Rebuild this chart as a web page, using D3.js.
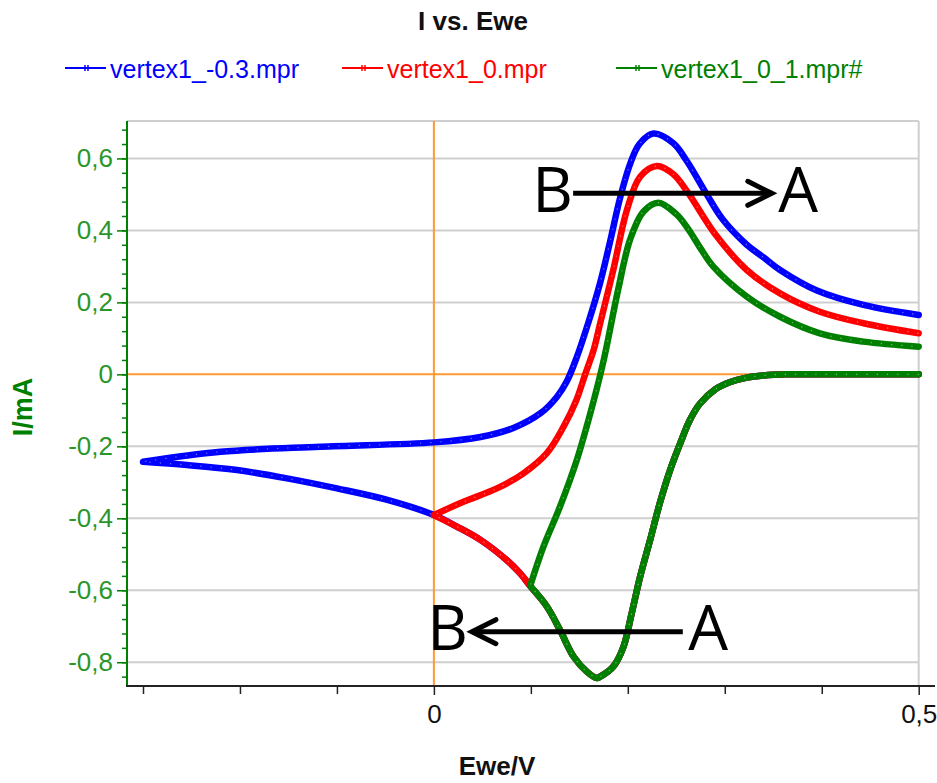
<!DOCTYPE html>
<html><head><meta charset="utf-8">
<script src="https://cdn.jsdelivr.net/npm/d3@7/dist/d3.min.js"></script>
<style>
html,body{margin:0;padding:0;background:#fff;}
svg{display:block;}
</style></head>
<body>
<svg id="chart" width="937" height="783"></svg>
<script>
// ---- data ----
// shared cathodic sweep (from 0.5 V toward negative vertex): potential (V), current (mA)
const cathodicE = [0.50, 0.42, 0.364, 0.34, 0.3227, 0.305, 0.29, 0.2745, 0.264, 0.254, 0.2436, 0.233, 0.223, 0.2127, 0.204, 0.1955, 0.185, 0.1715, 0.168, 0.1577, 0.144, 0.130, 0.1165, 0.0993, 0.089, 0.075, 0.048, 0.0237, 0.0, -0.048, -0.100, -0.1515, -0.203, -0.2546, -0.30];
const cathodicI = [0.0, 0.0, 0.0, -0.003, -0.009, -0.022, -0.042, -0.081, -0.127, -0.192, -0.266, -0.358, -0.460, -0.562, -0.664, -0.757, -0.812, -0.840, -0.844, -0.826, -0.784, -0.710, -0.645, -0.588, -0.553, -0.516, -0.460, -0.423, -0.391, -0.349, -0.317, -0.289, -0.266, -0.252, -0.243];

// anodic return sweeps
const blueE = [-0.30, -0.220, -0.117, 0.0, 0.048, 0.082, 0.110, 0.127, 0.137, 0.147, 0.16, 0.1715, 0.1818, 0.192, 0.2024, 0.212, 0.2264, 0.247, 0.261, 0.2814, 0.298, 0.3227, 0.34, 0.357, 0.395, 0.443, 0.50];
const blueI = [-0.243, -0.215, -0.201, -0.189, -0.174, -0.149, -0.108, -0.062, -0.020, 0.045, 0.150, 0.255, 0.370, 0.490, 0.585, 0.640, 0.669, 0.642, 0.592, 0.500, 0.430, 0.360, 0.325, 0.290, 0.233, 0.193, 0.165];

const redE = [0.0, 0.0305, 0.065, 0.0924, 0.1165, 0.1336, 0.147, 0.156, 0.165, 0.1715, 0.185, 0.199, 0.2127, 0.230, 0.247, 0.262, 0.29, 0.3227, 0.357, 0.398, 0.443, 0.50];
const redI = [-0.391, -0.354, -0.317, -0.275, -0.219, -0.146, -0.071, 0.0, 0.070, 0.142, 0.290, 0.456, 0.549, 0.579, 0.556, 0.505, 0.390, 0.290, 0.225, 0.174, 0.142, 0.114];

const greenE = [0.0993, 0.113, 0.130, 0.1474, 0.1594, 0.168, 0.176, 0.19, 0.2024, 0.216, 0.2316, 0.25, 0.262, 0.275, 0.288, 0.3227, 0.357, 0.398, 0.443, 0.50];
const greenI = [-0.588, -0.479, -0.368, -0.238, -0.127, -0.040, 0.050, 0.235, 0.375, 0.452, 0.477, 0.445, 0.405, 0.350, 0.300, 0.216, 0.160, 0.114, 0.091, 0.077];

const seriesNames = ["vertex1_-0.3.mpr", "vertex1_0.mpr", "vertex1_0_1.mpr#"];
const seriesColors = ["#0000ff", "#ff0000", "#008000"];
const seriesVertex = [-0.30, 0.0, 0.0993];

const yMajorTicks = [-0.8, -0.6, -0.4, -0.2, 0, 0.2, 0.4, 0.6];
const yTickLabels = ["-0,8", "-0,6", "-0,4", "-0,2", "0", "0,2", "0,4", "0,6"];
const xMajorTicks = [0, 0.5];
const xTickLabels = ["0", "0,5"];
const xMinorTicks = [-0.3, -0.2, -0.1, 0.1, 0.2, 0.3, 0.4];

// annotations (data units)
const annoTop = {from: [0.1436, 0.503], to: [0.3485, 0.503], textY: 0.452, bX: 0.1225, aX: 0.3756};
const annoBottom = {from: [0.2567, -0.715], to: [0.0392, -0.715], textY: -0.766, bX: 0.0142, aX: 0.2828};

// ---- build ----
(function draw() {
const svg = d3.select("#chart");
const x = d3.scaleLinear().domain([-0.3165, 0.5168]).range([127, 935]);
const y = d3.scaleLinear().domain([-0.866, 0.704]).range([686, 121]);
const pL = 127, pR = 935, pT = 121, pB = 686;

const anodic = [[blueE, blueI], [redE, redI], [greenE, greenI]];
const series = seriesNames.map((name, k) => {
  const pts = [];
  cathodicE.forEach((e, i) => { if (e >= seriesVertex[k] - 1e-9) pts.push([e, cathodicI[i]]); });
  anodic[k][0].forEach((e, i) => pts.push([e, anodic[k][1][i]]));
  return {name, color: seriesColors[k], pts};
});

const font = "'Liberation Sans', Arial, sans-serif";

// gridlines
const grid = svg.append("g");
yMajorTicks.filter(v => v !== 0).concat([0.704]).forEach(v => {
  grid.append("line").attr("x1", pL).attr("x2", x(0.5)).attr("y1", y(v)).attr("y2", y(v))
    .attr("stroke", "#cfcfcf").attr("stroke-width", 2);
});
grid.append("line").attr("x1", x(0.5)).attr("x2", x(0.5)).attr("y1", pT).attr("y2", pB)
  .attr("stroke", "#cfcfcf").attr("stroke-width", 2);
// zero lines
grid.append("line").attr("x1", pL).attr("x2", x(0.5)).attr("y1", y(0)).attr("y2", y(0))
  .attr("stroke", "#ff9933").attr("stroke-width", 2);
grid.append("line").attr("x1", x(0)).attr("x2", x(0)).attr("y1", pT).attr("y2", pB)
  .attr("stroke", "#ff9933").attr("stroke-width", 2);

// y axis (green)
const yMinor = d3.range(-0.84, 0.69, 0.04).map(v => +v.toFixed(2));
const yAx = svg.append("g").attr("transform", `translate(${pL},0)`);
yAx.call(d3.axisLeft(y).tickValues(yMinor).tickSize(5).tickFormat(""));
yAx.select(".domain").remove();
yAx.selectAll("line").attr("stroke", "#008000").attr("stroke-width", 1.5);
const yAxMaj = svg.append("g").attr("transform", `translate(${pL},0)`)
  .call(d3.axisLeft(y).tickValues(yMajorTicks).tickSize(10).tickPadding(4)
    .tickFormat((d, i) => yTickLabels[i]));
yAxMaj.select(".domain").remove();
yAxMaj.selectAll("line").attr("stroke", "#008000").attr("stroke-width", 1.5);
yAxMaj.selectAll("text").attr("fill", "#2a962a").style("font-family", font).style("font-size", "26px");
svg.append("line").attr("x1", pL).attr("x2", pL).attr("y1", pT).attr("y2", pB + 1)
  .attr("stroke", "#008000").attr("stroke-width", 2);

// x axis (black)
const xAx = svg.append("g").attr("transform", `translate(0,${pB})`)
  .call(d3.axisBottom(x).tickValues(xMinorTicks).tickSize(8).tickFormat(""));
xAx.select(".domain").remove();
xAx.selectAll("line").attr("stroke", "#222").attr("stroke-width", 1.5);
const xAxMaj = svg.append("g").attr("transform", `translate(0,${pB})`)
  .call(d3.axisBottom(x).tickValues(xMajorTicks).tickSize(9).tickPadding(10)
    .tickFormat((d, i) => xTickLabels[i]));
xAxMaj.select(".domain").remove();
xAxMaj.selectAll("line").attr("stroke", "#222").attr("stroke-width", 1.5);
xAxMaj.selectAll("text").attr("fill", "#111").style("font-family", font).style("font-size", "26px");
svg.append("line").attr("x1", pL - 1).attr("x2", pR).attr("y1", pB).attr("y2", pB)
  .attr("stroke", "#222").attr("stroke-width", 2);

// series
const line = d3.line().x(d => x(d[0])).y(d => y(d[1])).curve(d3.curveCatmullRom.alpha(0.5));
const plot = svg.append("g");
series.forEach(s => {
  plot.append("path").attr("d", line(s.pts)).attr("fill", "none")
    .attr("stroke", s.color).attr("stroke-width", 6.5).attr("stroke-linejoin", "round").attr("stroke-linecap", "round");
  plot.append("path").attr("d", line(s.pts)).attr("fill", "none")
    .attr("stroke", "#fff").attr("stroke-opacity", 0.45).attr("stroke-width", 1.2)
    .attr("stroke-dasharray", "1.2 9");
});

// title
svg.append("text").attr("x", 473).attr("y", 30).attr("text-anchor", "middle")
  .style("font-family", font).style("font-size", "26px").style("font-weight", "bold").attr("fill", "#111")
  .text("I vs. Ewe");

// legend
const legendX = [65, 342, 616];
series.forEach((s, k) => {
  const g = svg.append("g").attr("transform", `translate(${legendX[k]},68)`);
  g.append("line").attr("x1", 0).attr("x2", 41).attr("y1", 0).attr("y2", 0).attr("stroke", s.color).attr("stroke-width", 2);
  g.append("line").attr("x1", 20).attr("x2", 20).attr("y1", -3).attr("y2", 3).attr("stroke", s.color).attr("stroke-width", 1.5);
  g.append("line").attr("x1", 23).attr("x2", 23).attr("y1", -3).attr("y2", 3).attr("stroke", s.color).attr("stroke-width", 1.5);
  g.append("text").attr("x", 45).attr("y", 10).attr("fill", s.color)
    .style("font-family", font).style("font-size", "25px").text(s.name);
});

// axis titles
svg.append("text").attr("x", 497).attr("y", 775).attr("text-anchor", "middle")
  .style("font-family", font).style("font-size", "26px").style("font-weight", "bold").attr("fill", "#111")
  .text("Ewe/V");
svg.append("text").attr("transform", "translate(32,407) rotate(-90)").attr("text-anchor", "middle")
  .style("font-family", font).style("font-size", "27px").style("font-weight", "bold").attr("fill", "#008000")
  .text("I/mA");

// annotations
const annoFont = "'Open Sans', 'Noto Sans', sans-serif";
function arrow(a, dir) {
  const x1 = x(a.from[0]), x2 = x(a.to[0]), yy = y(a.from[1]);
  svg.append("line").attr("x1", x1).attr("x2", x2).attr("y1", yy).attr("y2", yy)
    .attr("stroke", "#000").attr("stroke-width", 5);
  const h = 24 * dir;
  svg.append("path").attr("d", `M${x2 - h},${yy - 12}L${x2},${yy}L${x2 - h},${yy + 12}`)
    .attr("fill", "none").attr("stroke", "#000").attr("stroke-width", 5).attr("stroke-linecap", "round").attr("stroke-linejoin", "miter");
  [["B", a.bX], ["A", a.aX]].forEach(([t, xv]) => {
    svg.append("text").attr("x", x(xv)).attr("y", y(a.textY)).attr("text-anchor", "middle")
      .style("font-family", annoFont).style("font-size", "63px").attr("fill", "#000").text(t);
  });
}
arrow(annoTop, 1);
arrow(annoBottom, -1);
})();
</script>
</body></html>
